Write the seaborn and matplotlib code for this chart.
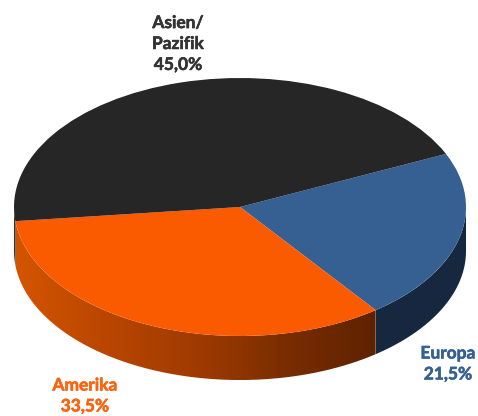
import numpy as np
import seaborn as sns
import matplotlib
matplotlib.use("Agg")
import matplotlib.pyplot as plt
import matplotlib.patheffects as pe
from matplotlib.patches import Polygon

# Regions, clockwise from the right side of the pie
regions = ["Europa", "Amerika", "Asien/\nPazifik"]
shares = [21.5, 33.5, 45.0]
share_labels = ["21,5%", "33,5%", "45,0%"]

top_colors = ["#366092", "#FA5A00", "#262626"]
label_colors = ["#366092", "#FA6410", "#333333"]
wall_stops = [["#16283F", "#16283F"],
              ["#D45500", "#B94600", "#A03B00", "#7A2D00", "#5E2200"],
              ["#333333", "#262626"]]

W, H = 478, 416
CX, CY, RX, RY, DEPTH = 240, 207, 226, 129, 44

sns.set_theme(style="white")
plt.rcParams["font.family"] = ["Lato", "DejaVu Sans"]

fig = plt.figure(figsize=(W / 100, H / 100), dpi=100)
ax = fig.add_axes([0, 0, 1, 1])

wedges, _ = ax.pie(shares, colors=top_colors, startangle=24.3, counterclock=False,
                   radius=1, wedgeprops=dict(linewidth=0, zorder=3))

# squash the circle into the ellipse of the tilted pie
ax.set_aspect("auto")
xlim = ((0 - CX) / RX, (W - CX) / RX)
ylim = ((CY - H) / RY, CY / RY)
depth = DEPTH / RY


def draw_wall(wedge, stops):
    # only the front half of a slice shows its side
    a = wedge.theta1 % 360
    b = a + (wedge.theta2 - wedge.theta1)
    for lo, hi in [(a, b), (a + 360, b + 360), (a - 360, b - 360)]:
        lo, hi = max(lo, 180), min(hi, 360)
        if lo >= hi:
            continue
        t = np.radians(np.linspace(lo, hi, 200))
        x, y = np.cos(t), np.sin(t)
        pts = np.r_[np.c_[x, y], np.c_[x, y - depth][::-1]]
        poly = Polygon(pts, closed=True, transform=ax.transData, facecolor="none", edgecolor="none")
        ax.add_patch(poly)
        cmap = sns.blend_palette(stops, as_cmap=True)
        grad = np.linspace(0, 1, 256)[None, :]
        im = ax.imshow(grad, cmap=cmap, aspect="auto", zorder=2,
                       extent=(x.min(), x.max(), y.min() - depth, y.max()))
        im.set_clip_path(poly)


for wedge, stops in zip(wedges, wall_stops):
    draw_wall(wedge, stops)

ax.set_xlim(xlim)
ax.set_ylim(ylim)
ax.axis("off")

# label centres in pixels
label_pos = [(448, 364), (85, 396), (178, 44)]
for name, share, color, (px, py) in zip(regions, share_labels, label_colors, label_pos):
    txt = ax.text((px - CX) / RX, (CY - py) / RY, f"{name}\n{share}", color=color,
                  fontsize=12.5, fontweight="bold", ha="center", va="center",
                  linespacing=1.38, zorder=5)
    # Lato bold comes out a bit thin against the original
    txt.set_path_effects([pe.withStroke(linewidth=0.4, foreground=color)])

fig.savefig("out.png", dpi=100, facecolor="white")
